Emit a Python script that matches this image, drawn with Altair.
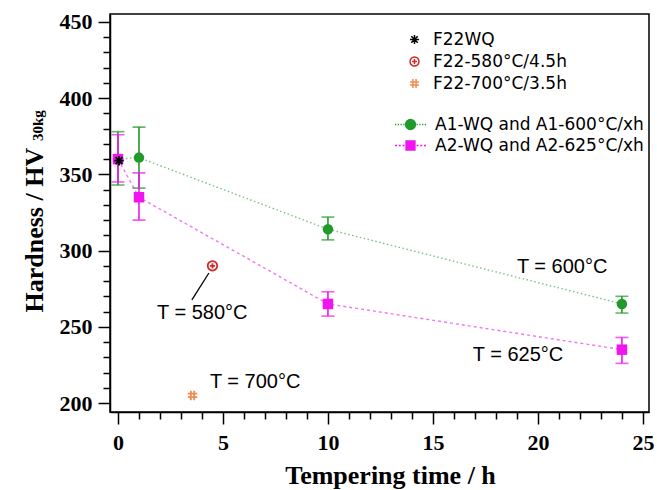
import altair as alt
import pandas as pd

# ---------------- data ----------------
A1 = "A1-WQ and A1-600°C/xh"
A2 = "A2-WQ and A2-625°C/xh"
a_series = [A1, A1, A1, A1, A2, A2, A2, A2]
a_time = [0, 1, 10, 24, 0, 1, 10, 24]
a_hard = [360, 361, 314, 265, 360, 335, 265, 235]
a_lo = [343, 341, 307, 259, 345, 320, 257, 226]
a_hi = [378, 381, 322, 270, 376, 351, 273, 243]

f22_series = ["F22WQ", "F22-580°C/4.5h", "F22-700°C/3.5h"]
f22_time = [0.05, 4.5, 3.55]
f22_hard = [359, 290, 205]

ann_text = ["T = 580°C", "T = 700°C", "T = 600°C", "T = 625°C"]
ann_time = [1.86, 4.38, 19.0, 16.9]
ann_hard = [259, 214, 289, 231.5]

leader_t = [3.52]
leader_t2 = [4.33]
leader_y = [267.6]
leader_y2 = [285.3]

x_ticks = list(range(0, 26))
y_ticks = list(range(200, 451, 10))

a_df = pd.DataFrame({"series": a_series, "t": a_time, "y": a_hard, "lo": a_lo, "hi": a_hi})
f_df = pd.DataFrame({"series": f22_series, "t": f22_time, "y": f22_hard})
ann_df = pd.DataFrame({"label": ann_text, "t": ann_time, "y": ann_hard})
lead_df = pd.DataFrame({"t": leader_t, "t2": leader_t2, "y": leader_y, "y2": leader_y2})
sub_df = pd.DataFrame({"label": ["30kg"]})

# ---------------- styling ----------------
SERIF = "Liberation Serif"
SANS = "Liberation Sans"
LEGF = "DejaVu Sans"
GREEN = "#22992b"
MAGENTA = "#f015f0"

x_axis = alt.Axis(
    title="Tempering time / h", values=x_ticks, grid=False,
    labelExpr="datum.value % 5 === 0 ? datum.label : ''",
    labelFont=SERIF, labelFontWeight="bold", labelFontSize=22, labelColor="black",
    labelPadding=8, labelAngle=0,
    tickSize={"condition": {"test": "datum.value % 5 === 0", "value": 12}, "value": 7},
    tickColor="black", tickWidth=1.5, domainColor="black", domainWidth=1.5,
    titleFont=SERIF, titleFontWeight="bold", titleFontSize=26, titleColor="black",
    titleX=280, titleY=71, titleBaseline="alphabetic", titleAlign="center",
)
y_axis = alt.Axis(
    title="Hardness / HV", values=y_ticks, grid=False,
    labelExpr="datum.value % 50 === 0 ? datum.label : ''",
    labelFont=SERIF, labelFontWeight="bold", labelFontSize=22, labelColor="black",
    labelPadding=6,
    tickSize={"condition": {"test": "datum.value % 50 === 0", "value": 12}, "value": 7},
    tickColor="black", tickWidth=1.5, domainColor="black", domainWidth=1.5,
    titleFont=SERIF, titleFontWeight="bold", titleFontSize=26, titleColor="black",
    titleAngle=270, titleX=-68, titleY=298, titleAlign="left", titleBaseline="alphabetic",
)

xs = alt.Scale(domain=[-0.38, 25.29], nice=False, zero=False)
ys = alt.Scale(domain=[194.1, 455.2], nice=False, zero=False)

X = alt.X("t:Q", scale=xs, axis=x_axis)
Y = alt.Y("y:Q", scale=ys, axis=y_axis)
Ylo = alt.Y("lo:Q", scale=ys, axis=y_axis)
Yhi = alt.Y("hi:Q", scale=ys, axis=y_axis)

circ = "M1,0A1,1,0,1,1,-1,0A1,1,0,1,1,1,0Z"
sq = "M-0.9,-0.9L0.9,-0.9L0.9,0.9L-0.9,0.9Z"
stub1 = "M-3.1,0L-2.85,0M-2.55,0L-2.3,0M-2.0,0L-1.75,0M-1.45,0L-1.2,0M1.2,0L1.45,0M1.75,0L2.0,0M2.3,0L2.55,0M2.85,0L3.1,0"
stub2 = "M-3.1,0L-2.7,0M-2.35,0L-1.95,0M-1.6,0L-1.2,0M1.2,0L1.6,0M1.95,0L2.35,0M2.7,0L3.1,0"

a_specs = [
    (A1, GREEN, circ + stub1, "circle", [1.5, 2.5], 102),
    (A2, MAGENTA, sq + stub2, "square", [3, 3], 123),
]

layers = []
pts_layers = []
for name, col, legpath, shp, dash, ly in a_specs:
    base = alt.Chart(a_df).transform_filter(alt.datum.series == name)
    cs = alt.Scale(domain=[name], range=[col])
    leg = alt.Legend(
        title=None, orient="none", legendX=292, legendY=ly, padding=0,
        labelFont=LEGF, labelFontSize=17, labelColor="black", labelOffset=16,
        labelLimit=400,
        symbolSize=100, symbolType=legpath, symbolStrokeWidth=1.3,
        symbolStrokeColor=col, symbolFillColor=col,
    )
    layers.append(base.mark_line(color=col, strokeDash=dash, strokeWidth=1.4, opacity=0.6).encode(x=X, y=Y))
    layers.append(base.mark_rule(color=col, strokeWidth=1.6).encode(x=X, y=Ylo, y2="hi:Q"))
    layers.append(base.mark_tick(color=col, orient="horizontal", size=13, thickness=1.6).encode(x=X, y=Ylo))
    layers.append(base.mark_tick(color=col, orient="horizontal", size=13, thickness=1.6).encode(x=X, y=Yhi))
    pts_layers.append(
        base.mark_point(filled=True, size=110, opacity=1, strokeWidth=0, shape=shp).encode(
            x=X, y=Y,
            color=alt.Color("series:N", scale=cs, legend=leg),
        )
    )

star = "M-1,0L1,0M0,-1L0,1M-0.72,-0.72L0.72,0.72M-0.72,0.72L0.72,-0.72"
oplus = "M1,0A1,1,0,1,1,-1,0A1,1,0,1,1,1,0ZM-0.55,0L0.55,0M0,-0.55L0,0.55"
hashp = "M-1,-0.35L1,-0.35M-1,0.35L1,0.35M-0.35,-1L-0.35,1M0.35,-1L0.35,1"

legend_f = alt.Legend(
    title=None, orient="none", legendX=296, legendY=17, padding=0,
    labelFont=LEGF, labelFontSize=17, labelColor="black", labelOffset=10,
    labelLimit=400,
    symbolSize=80, symbolStrokeWidth=1.5, rowPadding=4,
)
f_scale_c = alt.Scale(domain=f22_series, range=["#000000", "#d02828", "#f08a50"])
f_scale_s = alt.Scale(domain=f22_series, range=[star, oplus, hashp])
f_pts = alt.Chart(f_df).mark_point(filled=False, size=90, strokeWidth=1.8, opacity=1).encode(
    x=X, y=Y,
    color=alt.Color("series:N", scale=f_scale_c, legend=legend_f),
    shape=alt.Shape("series:N", scale=f_scale_s, legend=legend_f),
)

ann = alt.Chart(ann_df).mark_text(
    font=SANS, fontSize=20, align="left", baseline="middle", color="black"
).encode(x=X, y=Y, text="label:N")

lead = alt.Chart(lead_df).mark_rule(color="black", strokeWidth=1.3).encode(
    x=X, x2="t2:Q", y=Y, y2="y2:Q"
)

sub = alt.Chart(sub_df).mark_text(
    font=SERIF, fontWeight="bold", fontSize=15, angle=270, align="left",
    baseline="alphabetic", color="black"
).encode(x=alt.value(-67), y=alt.value(127), text="label:N")

chart = alt.layer(*layers, *pts_layers, f_pts, lead, ann, sub).resolve_scale(
    color="independent", shape="independent"
).properties(
    width=539, height=398,
    autosize=alt.AutoSizeParams(type="none"),
    padding={"left": 110, "top": 14, "right": 8, "bottom": 78},
    background="white",
).configure_view(stroke="black", strokeWidth=1.5)

chart.save("out.html", embed_options={"renderer": "svg", "actions": False})
